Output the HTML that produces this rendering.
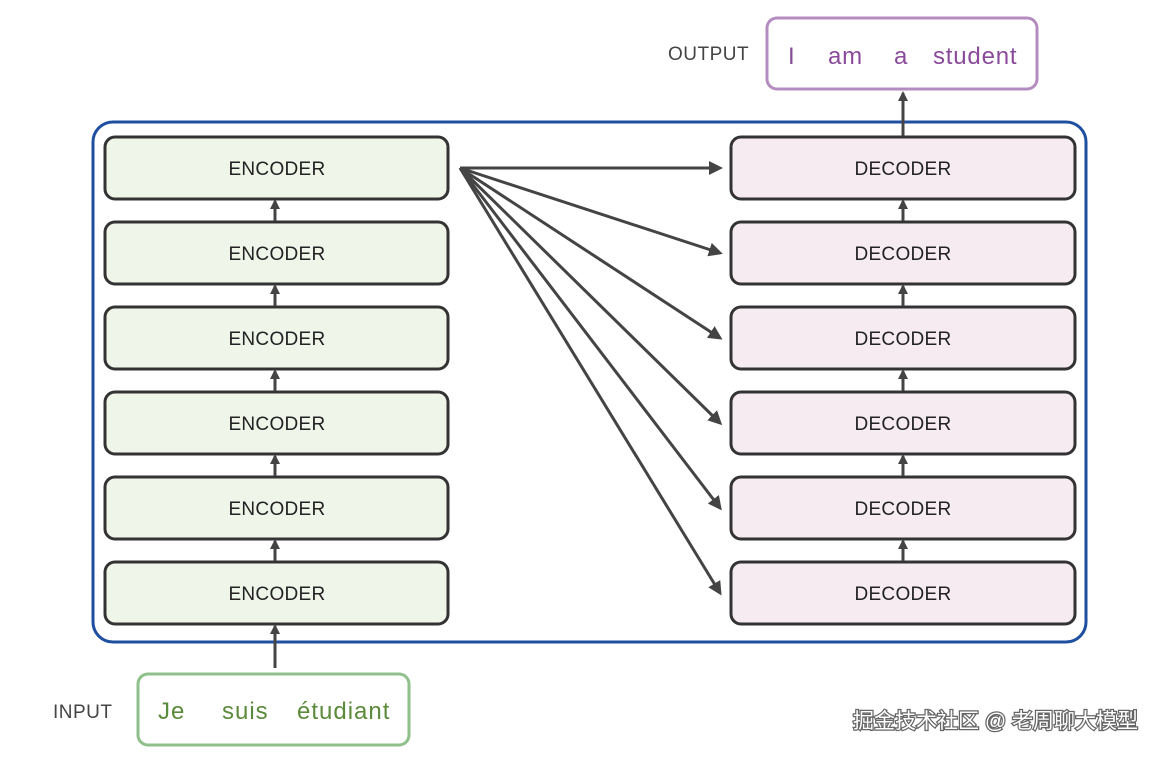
<!DOCTYPE html>
<html><head><meta charset="utf-8"><style>
html,body{margin:0;padding:0;background:#fff;}
svg{display:block;}
text{font-family:"Liberation Sans","Noto Sans CJK SC",sans-serif;}
</style></head><body>
<svg width="1160" height="758" viewBox="0 0 1160 758" xmlns="http://www.w3.org/2000/svg">
<defs>
<marker id="ah" markerWidth="10" markerHeight="10" refX="8" refY="5" orient="auto" markerUnits="userSpaceOnUse">
<path d="M0,0 L10,5 L0,10 Z" fill="#444"/>
</marker>
<marker id="au" markerWidth="14" markerHeight="14" refX="11" refY="7" orient="auto" markerUnits="userSpaceOnUse">
<path d="M0,0 L14,7 L0,14 Z" fill="#444"/>
</marker>
</defs>
<rect x="93" y="122" width="993" height="520" rx="20" fill="#fff" stroke="#1f4fa0" stroke-width="3"/>
<g stroke="#333" stroke-width="3">
<rect x="105" y="137" width="343" height="62" rx="10" fill="#f0f5ea"/>
<rect x="105" y="222" width="343" height="62" rx="10" fill="#f0f5ea"/>
<rect x="105" y="307" width="343" height="62" rx="10" fill="#f0f5ea"/>
<rect x="105" y="392" width="343" height="62" rx="10" fill="#f0f5ea"/>
<rect x="105" y="477" width="343" height="62" rx="10" fill="#f0f5ea"/>
<rect x="105" y="562" width="343" height="62" rx="10" fill="#f0f5ea"/>
<rect x="731" y="137" width="344" height="62" rx="10" fill="#f6ebf1"/>
<rect x="731" y="222" width="344" height="62" rx="10" fill="#f6ebf1"/>
<rect x="731" y="307" width="344" height="62" rx="10" fill="#f6ebf1"/>
<rect x="731" y="392" width="344" height="62" rx="10" fill="#f6ebf1"/>
<rect x="731" y="477" width="344" height="62" rx="10" fill="#f6ebf1"/>
<rect x="731" y="562" width="344" height="62" rx="10" fill="#f6ebf1"/>
</g>
<g font-size="19" fill="#222" text-anchor="middle" letter-spacing="0.3">
<text x="277" y="175">ENCODER</text><text x="277" y="260">ENCODER</text><text x="277" y="345">ENCODER</text>
<text x="277" y="430">ENCODER</text><text x="277" y="515">ENCODER</text><text x="277" y="600">ENCODER</text>
<text x="903" y="175">DECODER</text><text x="903" y="260">DECODER</text><text x="903" y="345">DECODER</text>
<text x="903" y="430">DECODER</text><text x="903" y="515">DECODER</text><text x="903" y="600">DECODER</text>
</g>
<g stroke="#444" stroke-width="3" marker-end="url(#ah)">
<line x1="275" y1="221" x2="275" y2="201"/><line x1="275" y1="306" x2="275" y2="286"/>
<line x1="275" y1="391" x2="275" y2="371"/><line x1="275" y1="476" x2="275" y2="456"/>
<line x1="275" y1="561" x2="275" y2="541"/>
<line x1="903" y1="221" x2="903" y2="201"/><line x1="903" y1="306" x2="903" y2="286"/>
<line x1="903" y1="391" x2="903" y2="371"/><line x1="903" y1="476" x2="903" y2="456"/>
<line x1="903" y1="561" x2="903" y2="541"/>
<line x1="275" y1="668" x2="275" y2="626"/>
<line x1="903" y1="136" x2="903" y2="93"/>
</g>
<g stroke="#444" stroke-width="3" marker-end="url(#au)">
<line x1="460" y1="168" x2="720" y2="168"/>
<line x1="460" y1="168" x2="720" y2="253"/>
<line x1="460" y1="168" x2="720" y2="338"/>
<line x1="460" y1="168" x2="720" y2="423"/>
<line x1="460" y1="168" x2="720" y2="508"/>
<line x1="460" y1="168" x2="720" y2="593"/>
</g>
<rect x="767" y="18" width="270" height="71" rx="10" fill="#fff" stroke="#b48cc0" stroke-width="3"/>
<text x="668" y="60" font-size="19" fill="#444" letter-spacing="0.5">OUTPUT</text>
<g font-size="24" fill="#8a4a9a" letter-spacing="0.8"><text x="788" y="64">I</text><text x="828" y="64">am</text><text x="894" y="64">a</text><text x="933" y="64">student</text></g>
<rect x="138" y="674" width="271" height="71" rx="10" fill="#fff" stroke="#8fbf8a" stroke-width="3"/>
<text x="53" y="718" font-size="19" fill="#444" letter-spacing="0.5">INPUT</text>
<g font-size="24" fill="#5a8a3a" letter-spacing="1"><text x="158" y="719">Je</text><text x="222" y="719">suis</text><text x="297" y="719">étudiant</text></g>
<text x="1138" y="728" font-size="21" fill="#fff" stroke="#666" stroke-width="2.5" paint-order="stroke" text-anchor="end">掘金技术社区 @ 老周聊大模型</text>
</svg>
</body></html>
